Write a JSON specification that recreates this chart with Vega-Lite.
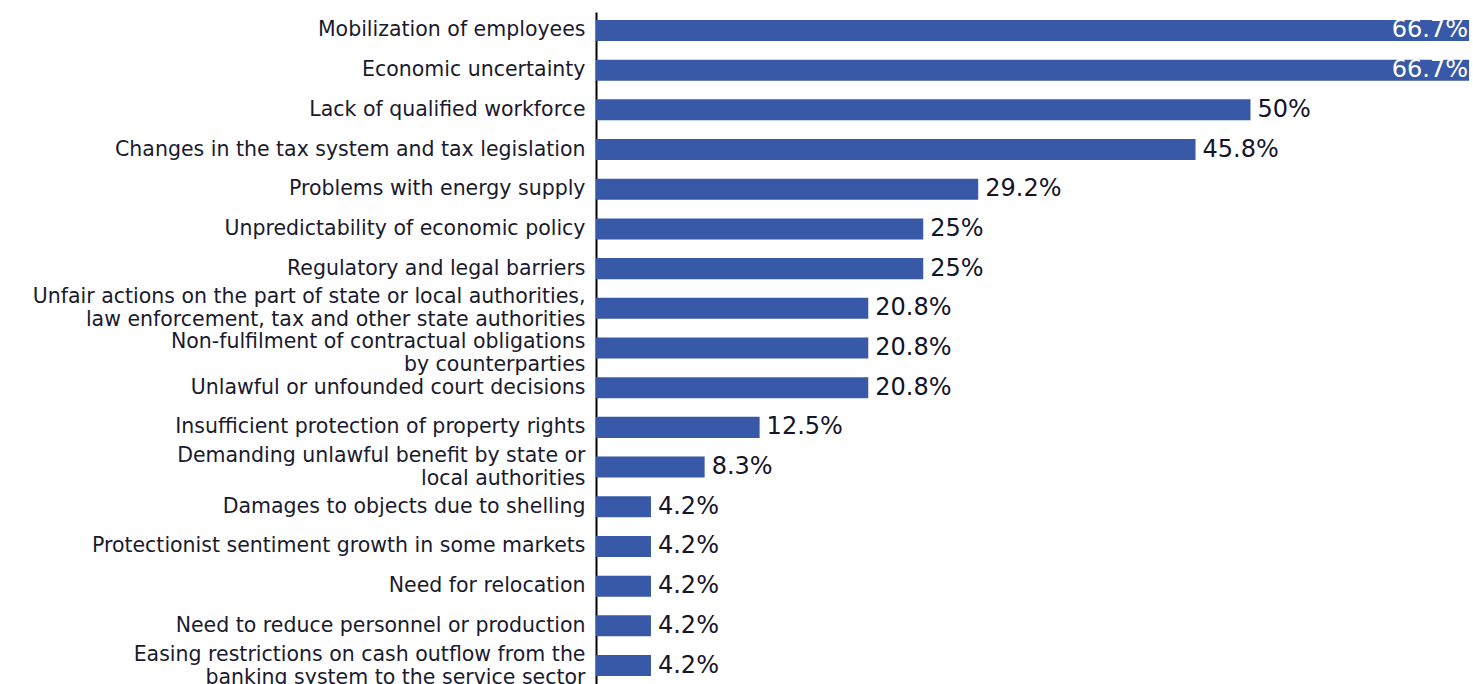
{
  "$schema": "https://vega.github.io/schema/vega-lite/v6.json",
  "autosize": {"type": "none"},
  "padding": {"left": 596, "top": 12, "right": 0, "bottom": 0},
  "width": 877,
  "height": 672,
  "background": "white",
  "config": {"view": {"stroke": null}, "font": "DejaVu Sans"},
  "data": {"values": [
    {"label": "Mobilization of employees", "v": 66.7, "t": "66.7%"},
    {"label": "Economic uncertainty", "v": 66.7, "t": "66.7%"},
    {"label": "Lack of qualified workforce", "v": 50, "t": "50%"},
    {"label": "Changes in the tax system and tax legislation", "v": 45.8, "t": "45.8%"},
    {"label": "Problems with energy supply", "v": 29.2, "t": "29.2%"},
    {"label": "Unpredictability of economic policy", "v": 25, "t": "25%"},
    {"label": "Regulatory and legal barriers", "v": 25, "t": "25%"},
    {"label": "Unfair actions on the part of state or local authorities,\nlaw enforcement, tax and other state authorities", "v": 20.8, "t": "20.8%"},
    {"label": "Non-fulfilment of contractual obligations\nby counterparties", "v": 20.8, "t": "20.8%"},
    {"label": "Unlawful or unfounded court decisions", "v": 20.8, "t": "20.8%"},
    {"label": "Insufficient protection of property rights", "v": 12.5, "t": "12.5%"},
    {"label": "Demanding unlawful benefit by state or\nlocal authorities", "v": 8.3, "t": "8.3%"},
    {"label": "Damages to objects due to shelling", "v": 4.2, "t": "4.2%"},
    {"label": "Protectionist sentiment growth in some markets", "v": 4.2, "t": "4.2%"},
    {"label": "Need for relocation", "v": 4.2, "t": "4.2%"},
    {"label": "Need to reduce personnel or production", "v": 4.2, "t": "4.2%"},
    {"label": "Easing restrictions on cash outflow from the\nbanking system to the service sector", "v": 4.2, "t": "4.2%"}
  ]},
  "encoding": {
    "y": {
      "field": "label", "type": "nominal", "sort": null, "title": null,
      "scale": {"paddingInner": 0.47, "paddingOuter": 0.2},
      "axis": {
        "labelExpr": "split(datum.label, '\\n')",
        "labelFont": "DejaVu Sans", "labelFontSize": 20.5, "labelColor": "#1a1a2e",
        "labelLineHeight": 23, "labelPadding": 11, "labelLimit": 700,
        "labelOffset": {"condition": [
          {"test": "indexof(datum.value, 'Non-fulfilment') == 0", "value": -6},
          {"test": "indexof(datum.value, '\\n') >= 0", "value": -11}
        ], "value": 0},
        "ticks": false, "domainColor": "#000000", "domainWidth": 2
      }
    },
    "x": {
      "field": "v", "type": "quantitative", "title": null,
      "scale": {"domain": [0, 67], "nice": false},
      "axis": null
    }
  },
  "layer": [
    {"mark": {"type": "bar", "color": "#3759a8"}},
    {
      "transform": [{"filter": "datum.v < 60"}],
      "mark": {"type": "text", "align": "left", "baseline": "middle", "dx": 7, "fontSize": 24, "font": "DejaVu Sans", "color": "#14142b"},
      "encoding": {"text": {"field": "t"}}
    },
    {
      "transform": [{"filter": "datum.v >= 60"}],
      "mark": {"type": "text", "align": "right", "baseline": "middle", "dx": -1, "fontSize": 24, "font": "DejaVu Sans", "color": "#ffffff"},
      "encoding": {"text": {"field": "t"}}
    }
  ]
}
